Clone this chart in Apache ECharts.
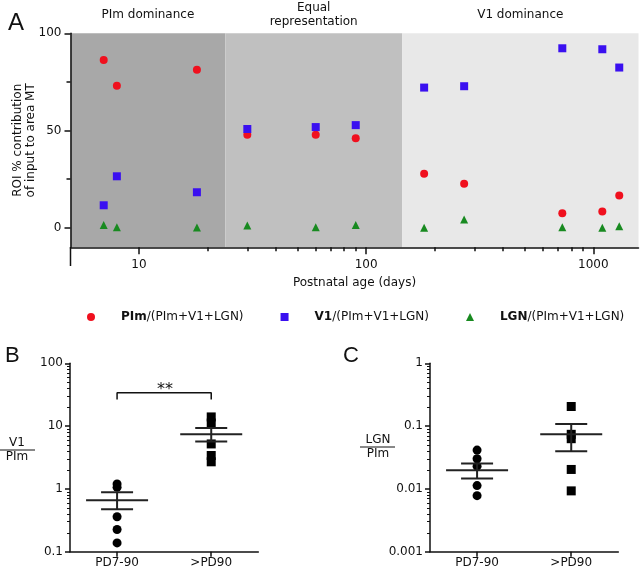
<!DOCTYPE html>
<html><head><meta charset="utf-8">
<script src="https://cdn.jsdelivr.net/npm/echarts@6/dist/echarts.min.js"></script>
<style>html,body{margin:0;padding:0;background:#fff}#c{width:640px;height:576px}</style>
</head><body><div id="c"></div>
<script>
// ---------- Panel A data ----------
const ageDays = [7, 8, 18, 30, 60, 90, 180, 270, 730, 1095, 1300];
const pimPct  = [86.3, 73.1, 81.2, 47.8, 47.8, 46.0, 27.8, 22.7, 7.5, 8.4, 16.6];
const v1Pct   = [11.6, 26.5, 18.3, 50.8, 51.8, 52.8, 72.1, 72.8, 92.3, 91.8, 82.4];
const lgnPct  = [1.5, 0.3, 0.2, 1.2, 0.3, 1.5, 0.0, 4.3, 0.3, 0.0, 0.8];
const regionNames  = ['PIm dominance', 'Equal\nrepresentation', 'V1 dominance'];
const regionBounds = [5, 24, 144, 1580];
const regionColors = ['#a8a8a8', '#c0c0c0', '#e8e8e8'];
const seriesNames  = ['PIm', 'V1', 'LGN'];
const xMajorTicks = [10, 100, 1000];
const xMinorTicks = [20, 30, 40, 50, 60, 70, 80, 90, 200, 300, 400, 500, 600, 700, 800, 900];
const yMajorTicksA = [0, 50, 100];
const yMinorTicksA = [25, 75];

// ---------- Panel B / C data ----------
const groups = ['PD7-90', '>PD90'];
const v1PimEarly = [1.2, 1.06, 0.36, 0.226, 0.138];
const v1PimLate  = [14, 11.2, 5.2, 3.4, 2.7];
const v1PimMean  = [0.66, 7.4];
const v1PimSemHi = [0.885, 9.3];
const v1PimSemLo = [0.475, 5.7];
const sigBracket = [26.6, 34];

const lgnPimEarly = [0.0415, 0.0302, 0.023, 0.0113, 0.0078];
const lgnPimLate  = [0.205, 0.074, 0.063, 0.0204, 0.0093];
const lgnPimMean  = [0.0199, 0.074];
const lgnPimSemHi = [0.0254, 0.108];
const lgnPimSemLo = [0.0146, 0.0396];

const yMajorB = [0.1, 1, 10, 100];
const yMinorB = [0.2,0.3,0.4,0.5,0.6,0.7,0.8,0.9,2,3,4,5,6,7,8,9,20,30,40,50,60,70,80,90];
const yMajorC = [0.001, 0.01, 0.1, 1];
const yMinorC = [0.002,0.003,0.004,0.005,0.006,0.007,0.008,0.009,0.02,0.03,0.04,0.05,0.06,0.07,0.08,0.09,0.2,0.3,0.4,0.5,0.6,0.7,0.8,0.9];

const FONT = 'DejaVu Sans';
const INK = '#111';
const RED = '#f0101e', BLUE = '#3a10f0', GREEN = '#188a20';
const fmtNum = v => String(+Number(v).toPrecision(6));

const chart = echarts.init(document.getElementById('c'), null, {renderer: 'canvas'});

function majorAxis(extra) {
  return Object.assign({
    z: 10,
    axisLine: {show: true, onZero: false, lineStyle: {color: INK, width: 1.5}},
    splitLine: {show: false},
    axisLabel: {color: INK, fontSize: 12, fontFamily: FONT, formatter: fmtNum},
    nameTextStyle: {color: INK, fontSize: 12, fontFamily: FONT}
  }, extra);
}
function minorAxis(extra) {
  return Object.assign({
    z: 10,
    axisLine: {show: false, onZero: false},
    splitLine: {show: false},
    axisLabel: {show: false}
  }, extra);
}

function meanSem(gridX, gridY, means, his, los) {
  return {
    type: 'custom', xAxisIndex: gridX, yAxisIndex: gridY, z: 5,
    data: means.map((m, i) => [i, m, his[i], los[i]]),
    encode: {x: 0, y: [1, 2, 3]},
    renderItem: function (params, api) {
      const x = api.value(0);
      const pm = api.coord([x, api.value(1)]);
      const ph = api.coord([x, api.value(2)]);
      const pl = api.coord([x, api.value(3)]);
      const st = {stroke: '#222', lineWidth: 2};
      return {type: 'group', children: [
        {type: 'line', shape: {x1: pm[0] - 31, y1: pm[1], x2: pm[0] + 31, y2: pm[1]}, style: st},
        {type: 'line', shape: {x1: ph[0] - 16, y1: ph[1], x2: ph[0] + 16, y2: ph[1]}, style: st},
        {type: 'line', shape: {x1: pl[0] - 16, y1: pl[1], x2: pl[0] + 16, y2: pl[1]}, style: st},
        {type: 'line', shape: {x1: ph[0], y1: ph[1], x2: pl[0], y2: pl[1]}, style: st}
      ]};
    }
  };
}

const option = {
  animation: false,
  textStyle: {fontFamily: FONT, color: INK},
  title: [
    {text: 'A', left: 3, top: 6, textStyle: {fontSize: 24, fontWeight: 'normal', fontFamily: 'Liberation Sans', color: INK}},
    {text: 'B', left: 0, top: 340, textStyle: {fontSize: 22, fontWeight: 'normal', fontFamily: 'Liberation Sans', color: INK}},
    {text: 'C', left: 338, top: 340, textStyle: {fontSize: 22, fontWeight: 'normal', fontFamily: 'Liberation Sans', color: INK}}
  ],
  legend: {
    data: seriesNames, left: 82, top: 306, itemGap: 37,
    itemWidth: 8, itemHeight: 8,
    formatter: n => '{b|' + n + '}/(PIm+V1+LGN)',
    textStyle: {fontSize: 12, fontFamily: FONT, color: INK,
      rich: {b: {fontWeight: 'bold', fontSize: 12, fontFamily: FONT, color: INK, padding: [0, 0, 0, 21]}}}
  },
  grid: [
    {left: 70.5, top: 33.3, width: 568, height: 214, outerBoundsMode: 'none', containLabel: false},
    {left: 70, top: 363.3, width: 188.3, height: 188.4, outerBoundsMode: 'none', containLabel: false},
    {left: 430, top: 363.3, width: 188.3, height: 188.4, outerBoundsMode: 'none', containLabel: false}
  ],
  xAxis: [
    majorAxis({gridIndex: 0, type: 'log', logBase: 10, min: 5, max: 1580,
      axisTick: {show: true, customValues: xMajorTicks, length: 7, lineStyle: {color: INK, width: 1.5}},
      axisLabel: {customValues: xMajorTicks, margin: 12, color: INK, fontSize: 12, fontFamily: FONT, formatter: fmtNum},
      name: 'Postnatal age (days)', nameLocation: 'middle', nameGap: 30}),
    minorAxis({gridIndex: 0, type: 'log', logBase: 10, min: 5, max: 1580, position: 'bottom',
      axisTick: {show: true, customValues: xMinorTicks, length: 4, lineStyle: {color: INK, width: 1.5}}}),
    majorAxis({gridIndex: 1, type: 'category', data: groups, boundaryGap: true,
      axisTick: {show: true, alignWithLabel: true, length: 5, lineStyle: {color: INK, width: 1.5}},
      axisLabel: {margin: 5, color: INK, fontSize: 12, fontFamily: FONT}}),
    majorAxis({gridIndex: 2, type: 'category', data: groups, boundaryGap: true,
      axisTick: {show: true, alignWithLabel: true, length: 5, lineStyle: {color: INK, width: 1.5}},
      axisLabel: {margin: 5, color: INK, fontSize: 12, fontFamily: FONT}})
  ],
  yAxis: [
    majorAxis({gridIndex: 0, type: 'value', min: -10, max: 100,
      axisTick: {show: true, customValues: yMajorTicksA, length: 6, lineStyle: {color: INK, width: 1.5}},
      axisLabel: {customValues: yMajorTicksA, margin: 9, color: INK, fontSize: 12, fontFamily: FONT},
      name: 'ROI % contribution\nof input to area MT', nameLocation: 'middle', nameGap: 33, nameMoveOverlap: false,
      nameTextStyle: {fontSize: 12, lineHeight: 13, fontFamily: FONT, color: INK}}),
    minorAxis({gridIndex: 0, type: 'value', min: -10, max: 100, position: 'left',
      axisTick: {show: true, customValues: yMinorTicksA, length: 4, lineStyle: {color: INK, width: 1.5}}}),
    majorAxis({gridIndex: 1, type: 'log', logBase: 10, min: 0.1, max: 100,
      axisTick: {show: true, customValues: yMajorB, length: 5, lineStyle: {color: INK, width: 1.5}},
      axisLabel: {customValues: yMajorB, margin: 7, color: INK, fontSize: 12, fontFamily: FONT, formatter: fmtNum}}),
    minorAxis({gridIndex: 1, type: 'log', logBase: 10, min: 0.1, max: 100, position: 'left',
      axisTick: {show: true, customValues: yMinorB, length: 3, lineStyle: {color: INK, width: 1}}}),
    majorAxis({gridIndex: 2, type: 'log', logBase: 10, min: 0.001, max: 1,
      axisTick: {show: true, customValues: yMajorC, length: 5, lineStyle: {color: INK, width: 1.5}},
      axisLabel: {customValues: yMajorC, margin: 7, color: INK, fontSize: 12, fontFamily: FONT, formatter: fmtNum}}),
    minorAxis({gridIndex: 2, type: 'log', logBase: 10, min: 0.001, max: 1, position: 'left',
      axisTick: {show: true, customValues: yMinorC, length: 3, lineStyle: {color: INK, width: 1}}})
  ],
  series: [
    {type: 'scatter', name: 'bands', xAxisIndex: 0, yAxisIndex: 0, data: [], z: 0, silent: true,
      markArea: {silent: true,
        label: {show: true, position: ['50%', -18], align: 'center', verticalAlign: 'middle',
          fontSize: 12, lineHeight: 14, fontFamily: FONT, color: INK},
        data: regionNames.map((n, i) => [
          {name: n, xAxis: regionBounds[i], yAxis: -10, itemStyle: {color: regionColors[i], opacity: 1}},
          {xAxis: regionBounds[i + 1], yAxis: 100}
        ])}},
    {type: 'scatter', name: 'PIm', xAxisIndex: 0, yAxisIndex: 0, z: 3, symbol: 'circle', symbolSize: 8,
      itemStyle: {color: RED, opacity: 1}, data: ageDays.map((d, i) => [d, pimPct[i]])},
    {type: 'scatter', name: 'V1', xAxisIndex: 0, yAxisIndex: 0, z: 3, symbol: 'rect', symbolSize: 8,
      itemStyle: {color: BLUE, opacity: 1}, data: ageDays.map((d, i) => [d, v1Pct[i]])},
    {type: 'scatter', name: 'LGN', xAxisIndex: 0, yAxisIndex: 0, z: 3, symbol: 'triangle', symbolSize: 8,
      itemStyle: {color: GREEN, opacity: 1}, data: ageDays.map((d, i) => [d, lgnPct[i]])},

    {type: 'scatter', name: 'B early', xAxisIndex: 2, yAxisIndex: 2, symbol: 'circle', symbolSize: 9,
      itemStyle: {color: '#000', opacity: 1}, data: v1PimEarly.map(v => [groups[0], v])},
    {type: 'scatter', name: 'B late', xAxisIndex: 2, yAxisIndex: 2, symbol: 'rect', symbolSize: 9,
      itemStyle: {color: '#000', opacity: 1}, data: v1PimLate.map(v => [groups[1], v])},
    meanSem(2, 2, v1PimMean, v1PimSemHi, v1PimSemLo),
    {type: 'line', name: 'bracket', xAxisIndex: 2, yAxisIndex: 2, symbol: 'none', silent: true,
      lineStyle: {color: INK, width: 1.5},
      data: [[groups[0], sigBracket[0]], [groups[0], sigBracket[1]], [groups[1], sigBracket[1]], [groups[1], sigBracket[0]]]},

    {type: 'scatter', name: 'C early', xAxisIndex: 3, yAxisIndex: 4, symbol: 'circle', symbolSize: 9,
      itemStyle: {color: '#000', opacity: 1}, data: lgnPimEarly.map(v => [groups[0], v])},
    {type: 'scatter', name: 'C late', xAxisIndex: 3, yAxisIndex: 4, symbol: 'rect', symbolSize: 9,
      itemStyle: {color: '#000', opacity: 1}, data: lgnPimLate.map(v => [groups[1], v])},
    meanSem(3, 4, lgnPimMean, lgnPimSemHi, lgnPimSemLo)
  ],
  graphic: [
    {type: 'line', z: 20, shape: {x1: 70.5, y1: 247, x2: 70.5, y2: 266}, style: {stroke: INK, lineWidth: 1.5}},
    {type: 'text', x: 165, y: 390, style: {text: '**', fontSize: 16, fontFamily: FONT, fill: INK, textAlign: 'center', textVerticalAlign: 'middle'}},
    {type: 'text', x: 17, y: 443, style: {text: 'V1', fontSize: 12, fontFamily: FONT, fill: INK, textAlign: 'center', textVerticalAlign: 'middle'}},
    {type: 'line', shape: {x1: 0, y1: 450, x2: 35, y2: 450}, style: {stroke: INK, lineWidth: 1}},
    {type: 'text', x: 17, y: 457, style: {text: 'PIm', fontSize: 12, fontFamily: FONT, fill: INK, textAlign: 'center', textVerticalAlign: 'middle'}},
    {type: 'text', x: 378, y: 440, style: {text: 'LGN', fontSize: 12, fontFamily: FONT, fill: INK, textAlign: 'center', textVerticalAlign: 'middle'}},
    {type: 'line', shape: {x1: 360, y1: 447, x2: 395, y2: 447}, style: {stroke: INK, lineWidth: 1}},
    {type: 'text', x: 378, y: 454, style: {text: 'PIm', fontSize: 12, fontFamily: FONT, fill: INK, textAlign: 'center', textVerticalAlign: 'middle'}}
  ]
};
chart.setOption(option);
</script>
</body></html>
